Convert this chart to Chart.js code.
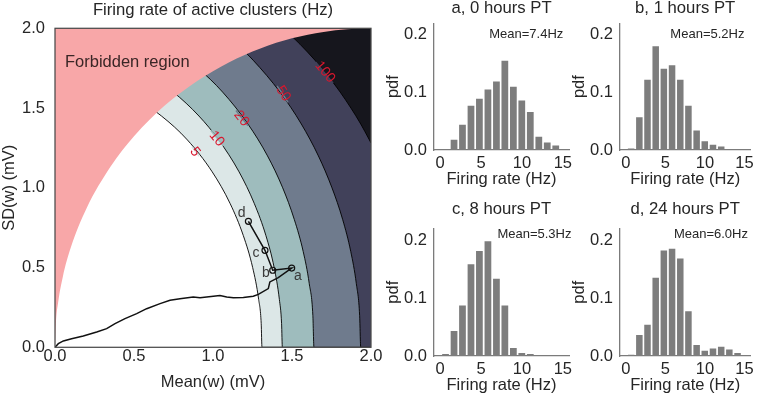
<!DOCTYPE html>
<html>
<head>
<meta charset="utf-8">
<script src="https://cdn.jsdelivr.net/npm/chart.js@4.4.1/dist/chart.umd.min.js"></script>
<style>
  html, body { margin: 0; padding: 0; background: #fff; }
  #wrap { position: relative; width: 759px; height: 396px; overflow: hidden; }
  #wrap canvas { position: absolute; left: 0; top: 0; }
</style>
</head>
<body>
<div id="wrap">
  <canvas id="main" width="759" height="396"></canvas>
  <canvas id="ha" width="759" height="396"></canvas>
  <canvas id="hb" width="759" height="396"></canvas>
  <canvas id="hc" width="759" height="396"></canvas>
  <canvas id="hd" width="759" height="396"></canvas>
</div>
<script>
// ---- main panel data (mean / SD of w, mV) ----
const axisTicks = [0, 0.5, 1.0, 1.5, 2.0];

// boundary of the forbidden region
const forbidden = [[0, 0], [0.005, 0.141], [0.02, 0.282], [0.05, 0.444], [0.1, 0.625], [0.2, 0.872],
  [0.35, 1.13], [0.5, 1.323], [0.7, 1.52], [0.9, 1.67], [1.1, 1.786], [1.3, 1.874],
  [1.5, 1.937], [1.7, 1.977], [1.85, 1.994], [2.0, 2.0]];

// iso-rate contour lines (Hz), sorted by x
const contourLevels = ['5', '10', '20', '50', '100'];
const contour5 = [[0.287, 1.65], [0.524, 1.55], [0.674, 1.45], [0.838, 1.3], [0.995, 1.1], [1.109, 0.9],
  [1.192, 0.7], [1.251, 0.5], [1.289, 0.3], [1.305, 0.15], [1.31, 0], [2.0, 0]];
const contour10 = [[0.399, 1.8], [0.605, 1.7], [0.749, 1.6], [0.911, 1.45], [1.036, 1.3], [1.165, 1.1],
  [1.262, 0.9], [1.335, 0.7], [1.387, 0.5], [1.42, 0.3], [1.434, 0.15], [1.439, 0], [2.0, 0]];
const contour20 = [[0.606, 1.95], [0.774, 1.85], [0.905, 1.75], [1.061, 1.6], [1.221, 1.4], [1.345, 1.2],
  [1.441, 1.0], [1.515, 0.8], [1.571, 0.6], [1.609, 0.4], [1.632, 0.2], [1.639, 0], [2.0, 0]];
const contour50 = [[1.032, 2.0], [1.151, 1.9], [1.254, 1.8], [1.424, 1.6], [1.559, 1.4], [1.667, 1.2],
  [1.753, 1.0], [1.821, 0.8], [1.872, 0.6], [1.907, 0.4], [1.928, 0.2], [1.935, 0], [2.0, 0]];
const contour100 = [[1.446, 2.0], [1.551, 1.9], [1.645, 1.8], [1.729, 1.7], [1.805, 1.6], [1.873, 1.5],
  [1.935, 1.4], [1.99, 1.3], [2.0, 1.281]];
const contours = [contour5, contour10, contour20, contour50, contour100];
const contourLabelPos = [[0.886, 1.224], [1.023, 1.308], [1.18, 1.434], [1.445, 1.59], [1.709, 1.726]];

// trajectory of the network
const trajX = [0, 0.021, 0.053, 0.105, 0.179, 0.264, 0.327, 0.38, 0.443, 0.517, 0.58, 0.665, 0.728, 0.791,
  0.875, 0.918, 0.96, 1.044, 1.087, 1.129, 1.192, 1.255, 1.287, 1.35, 1.36, 1.413, 1.498, 1.378, 1.329, 1.224];
const trajY = [0, 0.023, 0.04, 0.054, 0.071, 0.096, 0.117, 0.148, 0.18, 0.211, 0.242, 0.274, 0.295, 0.305,
  0.315, 0.311, 0.315, 0.324, 0.315, 0.311, 0.313, 0.32, 0.332, 0.368, 0.41, 0.437, 0.497, 0.483, 0.608, 0.79];
const markX = [1.498, 1.378, 1.329, 1.224];
const markY = [0.497, 0.483, 0.608, 0.79];
const markLabels = ['a', 'b', 'c', 'd'];
const markLabelPos = [[1.538, 0.445], [1.334, 0.466], [1.272, 0.589], [1.182, 0.838]];

const forbiddenLabel = 'Forbidden region';
const forbiddenLabelPos = [0.063, 1.787];

// ---- histograms ----
const histCenters = [0.66, 1.7, 2.73, 3.77, 4.8, 5.84, 6.88, 7.91, 8.95, 9.98, 11.02, 12.06, 13.09, 14.13, 15.16];
const pdfA = [0, 0.018, 0.044, 0.077, 0.089, 0.105, 0.119, 0.155, 0.11, 0.086, 0.066, 0.023, 0.013, 0.008, 0];
const pdfB = [0.0025, 0.057, 0.122, 0.18, 0.141, 0.147, 0.122, 0.077, 0.034, 0.015, 0.009, 0.006, 0, 0, 0];
const pdfC = [0.0035, 0.043, 0.087, 0.158, 0.181, 0.198, 0.133, 0.087, 0.014, 0.005, 0.0035, 0, 0, 0, 0];
const pdfD = [0.002, 0.036, 0.054, 0.135, 0.182, 0.185, 0.168, 0.077, 0.019, 0.009, 0.013, 0.016, 0.011, 0.005, 0];
const histTitles = ['a, 0 hours PT', 'b, 1 hours PT', 'c, 8 hours PT', 'd, 24 hours PT'];
const meanLabels = ['Mean=7.4Hz', 'Mean=5.2Hz', 'Mean=5.3Hz', 'Mean=6.0Hz'];
const meanLabelPos = [[15.05, 0.2], [15.0, 0.2], [16.05, 0.21], [15.45, 0.21]];
const histTicksX = [0, 5, 10, 15];
const histTicksY = [0, 0.1, 0.2];

const FONT = '"Liberation Sans", Arial, sans-serif';
const INK = '#262626';
Chart.defaults.font.family = FONT;
Chart.defaults.color = INK;
Chart.defaults.animation = false;
Chart.defaults.events = [];
Chart.defaults.plugins.legend.display = false;
Chart.defaults.plugins.tooltip.enabled = false;

const regionColors = ['#dce7e7', '#9ebcbd', '#6f7b8d', '#41415a', '#16161d'];
const W = 759, H = 396;
const TXT = 16.5;

function pts(list) { return list.map(p => ({ x: p[0], y: p[1] })); }
function fixedTicks(vals) { return s => { s.ticks = vals.map(v => ({ value: v })); }; }

// ---- main chart ----
const mainArea = { left: 55, top: 28.3, right: 371, bottom: 347.3 };

const mainDeco = {
  id: 'mainDeco',
  afterDatasetsDraw(chart) {
    const { ctx, chartArea: a, scales: { x, y } } = chart;
    ctx.save();
    // contour labels, with the line cut out under them
    ctx.font = '14px ' + FONT;
    ctx.textAlign = 'center';
    ctx.textBaseline = 'middle';
    contourLevels.forEach((lev, i) => {
      const c = contours[i];
      const [lx, ly] = contourLabelPos[i];
      let k = 0;
      while (k < c.length - 2 && c[k + 1][0] < lx) k++;
      const ang = Math.atan2(y.getPixelForValue(c[k + 1][1]) - y.getPixelForValue(c[k][1]),
        x.getPixelForValue(c[k + 1][0]) - x.getPixelForValue(c[k][0]));
      const w = ctx.measureText(lev).width + 4;
      ctx.save();
      ctx.translate(x.getPixelForValue(lx), y.getPixelForValue(ly));
      ctx.rotate(ang);
      ctx.fillStyle = i === 0 ? '#ffffff' : regionColors[i - 1];
      ctx.fillRect(-w / 2, 0, w, 1.6);
      ctx.fillStyle = regionColors[i];
      ctx.fillRect(-w / 2, -1.6, w, 1.6);
      ctx.fillStyle = '#d8172e';
      ctx.fillText(lev, 0, 0);
      ctx.restore();
    });
    // forbidden region text
    ctx.font = TXT + 'px ' + FONT;
    ctx.fillStyle = '#3a2626';
    ctx.textAlign = 'left';
    ctx.fillText(forbiddenLabel, x.getPixelForValue(forbiddenLabelPos[0]), y.getPixelForValue(forbiddenLabelPos[1]));
    // a..d
    ctx.font = '14px ' + FONT;
    ctx.fillStyle = '#3a3a3a';
    ctx.textAlign = 'center';
    markLabels.forEach((t, i) => {
      ctx.fillText(t, x.getPixelForValue(markLabelPos[i][0]), y.getPixelForValue(markLabelPos[i][1]));
    });
    // frame
    ctx.strokeStyle = '#4a4a4a';
    ctx.lineWidth = 1.25;
    ctx.strokeRect(a.left, a.top, a.right - a.left, a.bottom - a.top);
    ctx.restore();
  }
};

const contourSets = contours.map((c, i) => ({
  data: pts(c),
  borderColor: '#000',
  borderWidth: 0.9,
  backgroundColor: regionColors[i],
  fill: 'end',
  pointRadius: 0,
  cubicInterpolationMode: 'monotone',
  order: 6 - i
}));

new Chart(document.getElementById('main'), {
  type: 'line',
  data: {
    datasets: [
      {
        data: trajX.map((v, i) => ({ x: v, y: trajY[i] })),
        borderColor: '#111',
        borderWidth: 1.5,
        pointRadius: 0,
        fill: false,
        tension: 0,
        order: 0
      },
      {
        data: markX.map((v, i) => ({ x: v, y: markY[i] })),
        showLine: false,
        pointRadius: 3,
        pointBorderWidth: 1.2,
        pointBorderColor: '#111',
        pointBackgroundColor: 'rgba(0,0,0,0)',
        order: 0
      },
      {
        data: pts(forbidden),
        borderWidth: 0,
        borderColor: 'rgba(0,0,0,0)',
        backgroundColor: '#f8a7a8',
        fill: 'end',
        pointRadius: 0,
        cubicInterpolationMode: 'monotone',
        order: 1
      },
      ...contourSets
    ]
  },
  options: {
    responsive: false,
    devicePixelRatio: 1,
    layout: { padding: { left: 0, top: 0, right: W - mainArea.right, bottom: 0 } },
    plugins: {
      title: {
        display: true,
        fullSize: false,
        text: 'Firing rate of active clusters (Hz)',
        color: INK,
        font: { size: 16.7, weight: 'normal', lineHeight: 1 },
        padding: { top: 1.75, bottom: mainArea.top - 1.75 - 16.7 }
      }
    },
    scales: {
      x: {
        type: 'linear', min: 0, max: 2,
        afterBuildTicks: fixedTicks(axisTicks),
        afterFit: s => { s.height = H - mainArea.bottom; },
        grid: { display: false, drawTicks: false },
        border: { display: false },
        ticks: { padding: 1, font: { size: TXT, lineHeight: 1 }, callback: v => v.toFixed(1), maxRotation: 0 },
        title: { display: true, text: 'Mean(w) (mV)', font: { size: TXT, lineHeight: 1 }, padding: { top: 0, bottom: 5 } }
      },
      y: {
        type: 'linear', min: 0, max: 2,
        afterBuildTicks: fixedTicks(axisTicks),
        afterFit: s => { s.width = mainArea.left; },
        grid: { display: false, drawTicks: false },
        border: { display: false },
        ticks: { padding: 10, font: { size: TXT, lineHeight: 1 }, callback: v => v.toFixed(1) },
        title: { display: true, text: 'SD(w) (mV)', font: { size: TXT, lineHeight: 1 }, padding: { top: 1.3, bottom: 0 } }
      }
    }
  },
  plugins: [mainDeco]
});

// ---- histograms ----
const histBoxes = [
  { left: 434, top: 23.3, right: 569, bottom: 150, titleCenter: 8.75 },
  { left: 620, top: 23.3, right: 755, bottom: 150, titleCenter: 8.75 },
  { left: 434, top: 228.4, right: 569, bottom: 356, titleCenter: 209 },
  { left: 620, top: 228.4, right: 755, bottom: 356, titleCenter: 209 }
];
const histData = [pdfA, pdfB, pdfC, pdfD];

function makeHist(id, i) {
  const box = histBoxes[i];
  const yAxisW = 50, xAxisH = 40, titleSize = 16.7;
  const padTop = box.titleCenter - titleSize / 2;
  const meanDeco = {
    id: 'meanDeco' + i,
    afterDatasetsDraw(chart) {
      const { ctx, scales: { x, y } } = chart;
      ctx.save();
      ctx.font = '13px ' + FONT;
      ctx.fillStyle = INK;
      ctx.textAlign = 'right';
      ctx.textBaseline = 'middle';
      ctx.fillText(meanLabels[i], x.getPixelForValue(meanLabelPos[i][0]), y.getPixelForValue(meanLabelPos[i][1]));
      ctx.restore();
    }
  };
  new Chart(document.getElementById(id), {
    type: 'bar',
    data: {
      datasets: [{
        data: histCenters.map((c, k) => ({ x: c, y: histData[i][k] })),
        backgroundColor: '#7d7d7d',
        borderWidth: 0,
        barPercentage: 0.8,
        categoryPercentage: 1.0
      }]
    },
    options: {
      responsive: false,
      devicePixelRatio: 1,
      layout: { padding: { left: box.left - yAxisW, right: W - box.right, top: padTop, bottom: H - box.bottom - xAxisH } },
      plugins: {
        title: {
          display: true,
          fullSize: false,
          text: histTitles[i],
          color: INK,
          font: { size: titleSize, weight: 'normal', lineHeight: 1 },
          padding: { top: 0, bottom: box.top - padTop - titleSize }
        }
      },
      scales: {
        x: {
          type: 'linear', min: -0.75, max: 15.75, offset: false,
          afterBuildTicks: fixedTicks(histTicksX),
          afterFit: s => { s.height = xAxisH; },
          grid: { display: false, drawTicks: false },
          border: { display: true, color: '#7b7b7b', width: 1.3 },
          ticks: { padding: 5, font: { size: TXT, lineHeight: 1 }, maxRotation: 0 },
          title: { display: true, text: 'Firing rate (Hz)', font: { size: TXT, lineHeight: 1 }, padding: { top: 0, bottom: 2 } }
        },
        y: {
          type: 'linear', min: 0, max: 0.22,
          afterBuildTicks: fixedTicks(histTicksY),
          afterFit: s => { s.width = yAxisW; },
          grid: { display: false, drawTicks: false },
          border: { display: true, color: '#7b7b7b', width: 1.3 },
          ticks: { padding: 7, font: { size: TXT, lineHeight: 1 }, callback: v => v.toFixed(1) },
          title: { display: true, text: 'pdf', font: { size: TXT, lineHeight: 1 }, padding: { top: 1.3, bottom: 0 } }
        }
      }
    },
    plugins: [meanDeco]
  });
}

['ha', 'hb', 'hc', 'hd'].forEach(makeHist);
</script>
</body>
</html>
